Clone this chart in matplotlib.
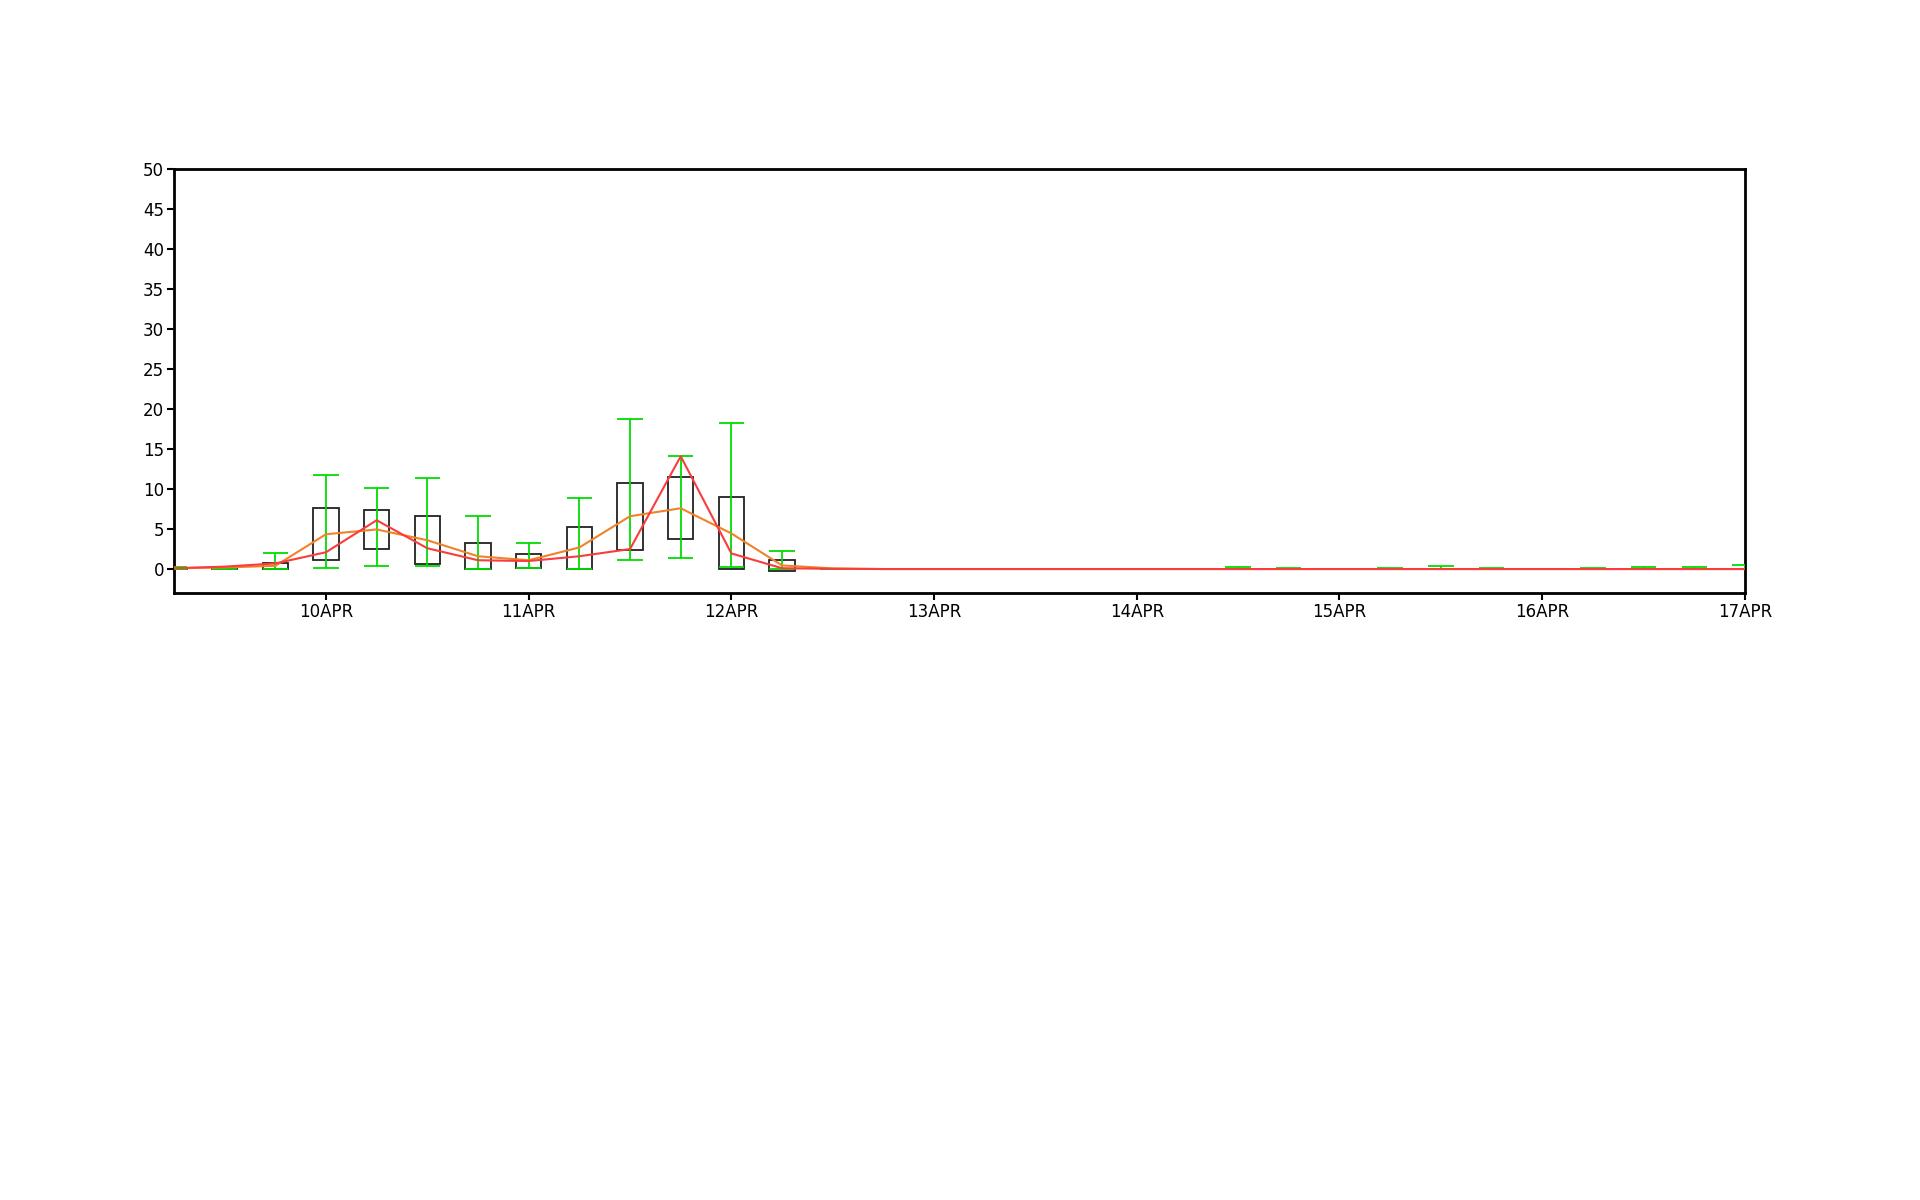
import matplotlib

matplotlib.use("Agg")
import matplotlib.dates as mdates
import matplotlib.pyplot as plt
import pandas as pd

# 6-hourly valid times, 9APR 06Z .. 17APR 00Z
times = pd.date_range("2000-04-09 06:00", periods=32, freq="6h")

# box (inner range) and whisker (outer range) limits
box_lo = [0.0, 0.0, 0.0, 1.1, 2.55, 0.6, 0.0, 0.1, 0.0, 2.35, 3.8, 0.0, -0.25,
          0.0, 0.0, 0.0, 0.0, 0.0, 0.0, 0.0, 0.0, 0.0, 0.0, 0.0, 0.0, 0.0,
          0.0, 0.0, 0.0, 0.0, 0.0, 0.0]
box_hi = [0.1, 0.2, 0.8, 7.65, 7.35, 6.65, 3.3, 1.9, 5.25, 10.8, 11.5, 9.05, 1.1,
          0.0, 0.0, 0.0, 0.0, 0.0, 0.0, 0.0, 0.0, 0.0, 0.0, 0.0, 0.0, 0.0,
          0.0, 0.0, 0.0, 0.0, 0.0, 0.0]
whisk_lo = [0.0, 0.0, 0.0, 0.17, 0.33, 0.35, 0.05, 0.1, 0.0, 1.1, 1.35, 0.3, 0.05,
            0.0, 0.0, 0.0, 0.0, 0.0, 0.0, 0.0, 0.0, 0.0, 0.0, 0.0, 0.0, 0.0,
            0.0, 0.0, 0.0, 0.0, 0.0, 0.0]
whisk_hi = [0.3, 0.3, 1.95, 11.75, 10.15, 11.35, 6.65, 3.2, 8.9, 18.75, 14.1, 18.2, 2.3,
            0.0, 0.0, 0.0, 0.0, 0.0, 0.0, 0.0, 0.0, 0.2, 0.1, 0.0, 0.1, 0.35,
            0.15, 0.0, 0.1, 0.2, 0.3, 0.5]

# two single-value series
red_line = [0.1, 0.3, 0.7, 2.1, 6.1, 2.6, 1.1, 1.0, 1.6, 2.5, 14.1, 1.95, 0.1,
            0.03, 0.0, 0.0, 0.0, 0.0, 0.0, 0.0, 0.0, 0.0, 0.0, 0.0, 0.0, 0.0,
            0.0, 0.0, 0.0, 0.0, 0.0, 0.0]
orange_line = [0.1, 0.2, 0.4, 4.35, 4.95, 3.6, 1.6, 1.1, 2.7, 6.6, 7.6, 4.45, 0.45,
               0.08, 0.0, 0.0, 0.0, 0.0, 0.0, 0.0, 0.0, 0.0, 0.0, 0.0, 0.0, 0.0,
               0.0, 0.0, 0.0, 0.0, 0.0, 0.0]

y_ticks = list(range(0, 51, 5))

GREEN = "#00dc00"
RED = "#fa3c3c"
ORANGE = "#f08228"


def main() -> None:
    fig = plt.figure(figsize=(19.2, 12), dpi=100)
    ax = fig.add_axes([0.0906, 0.5058, 0.8182, 0.3533])

    x = mdates.date2num(times)
    width = 0.125  # days

    heights = [hi - lo for lo, hi in zip(box_lo, box_hi)]
    ax.bar(x, heights, bottom=box_lo, width=width, facecolor="none",
           edgecolor="#222222", linewidth=1.3, zorder=2)

    ax.vlines(x, whisk_lo, whisk_hi, color=GREEN, linewidth=1.3, zorder=3)
    ax.hlines(whisk_hi, x - width / 2, x + width / 2, color=GREEN, linewidth=1.3, zorder=3)
    ax.hlines(whisk_lo, x - width / 2, x + width / 2, color=GREEN, linewidth=1.3, zorder=3)

    ax.plot(x, orange_line, color=ORANGE, linewidth=1.5, zorder=4)
    ax.plot(x, red_line, color=RED, linewidth=1.5, zorder=5)

    ax.set_xlim(x[0], x[-1])
    ax.set_ylim(-3, 50)
    ax.set_yticks(y_ticks)

    day_ticks = pd.date_range("2000-04-10", "2000-04-17", freq="D")
    ax.set_xticks(mdates.date2num(day_ticks))
    ax.set_xticklabels([d.strftime("%d%b").upper() for d in day_ticks])

    ax.tick_params(direction="out", length=5, width=1.5, labelsize=12, pad=2)
    for spine in ax.spines.values():
        spine.set_linewidth(2)

    fig.savefig("out.png", dpi=100, facecolor="white")
    plt.close(fig)


if __name__ == "__main__":
    main()
